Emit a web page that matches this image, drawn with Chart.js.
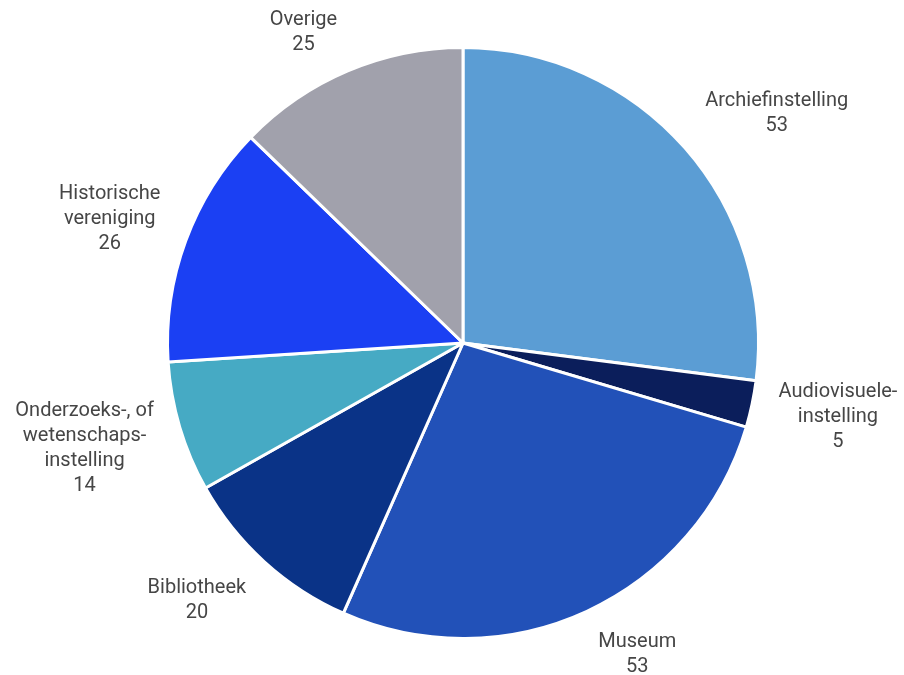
<!DOCTYPE html>
<html lang="nl">
<head>
<meta charset="utf-8">
<title>Erfgoedinstellingen</title>
<script src="https://cdn.jsdelivr.net/npm/chart.js@4"></script>
<style>
    html, body { margin: 0; padding: 0; background: #fff; }
    #wrap { width: 904px; height: 675px; }
</style>
</head>
<body>
<div id="wrap"><canvas id="chart" width="904" height="675"></canvas></div>
<script>
// Aantal instellingen per type
const categories = ['Archiefinstelling', 'Audiovisuele-instelling', 'Museum', 'Bibliotheek',
    'Onderzoeks-, of wetenschapsinstelling', 'Historische vereniging', 'Overige'];
const counts = [53, 5, 53, 20, 14, 26, 25];
// how each category name is broken over lines in its label
const labelLines = [
    ['Archiefinstelling'],
    ['Audiovisuele-', 'instelling'],
    ['Museum'],
    ['Bibliotheek'],
    ['Onderzoeks-, of', 'wetenschaps-', 'instelling'],
    ['Historische', 'vereniging'],
    ['Overige']
];
const colors = ['#5b9dd4', '#0b1e5b', '#2251b8', '#0a3387', '#46aac4', '#1b40f3', '#a1a1ac'];

const LABEL_FONT = '20px Roboto';
const LINE_HEIGHT = 25;
const LABEL_GAP = 27;

// Draws the category name and count next to each slice
const sliceLabels = {
    id: 'sliceLabels',
    afterDatasetsDraw(chart) {
        const ctx = chart.ctx;
        const meta = chart.getDatasetMeta(0);
        ctx.save();
        ctx.font = LABEL_FONT;
        ctx.fillStyle = '#464646';
        ctx.textAlign = 'center';
        ctx.textBaseline = 'middle';
        meta.data.forEach((arc, i) => {
            const lines = labelLines[i].concat(String(counts[i]));
            const w = Math.max(...lines.map(l => ctx.measureText(l).width));
            const h = lines.length * LINE_HEIGHT;
            const mid = (arc.startAngle + arc.endAngle) / 2;
            const dx = Math.cos(mid), dy = Math.sin(mid);
            const ax = arc.x + (arc.outerRadius + LABEL_GAP) * dx;
            const ay = arc.y + (arc.outerRadius + LABEL_GAP) * dy;
            // box hangs off the anchor on the side away from the pie
            let cx = dx >= 0 ? ax + w / 2 : ax - w / 2;
            cx = Math.min(Math.max(cx, w / 2 + 4), chart.width - w / 2 - 4);
            const cy = ay + dy * h / 2;
            // keep the label inside the canvas
            const top = Math.min(Math.max(cy - h / 2, 7), chart.height - h + 4);
            lines.forEach((line, k) => {
                ctx.fillText(line, cx, top + LINE_HEIGHT * (k + 0.5));
            });
        });
        ctx.restore();
    }
};

new Chart(document.getElementById('chart'), {
    type: 'pie',
    data: {
        labels: categories,
        datasets: [{
            data: counts,
            backgroundColor: colors,
            borderColor: '#ffffff',
            borderWidth: 3
        }]
    },
    options: {
        responsive: false,
        animation: false,
        layout: { padding: { left: 166, right: 144, top: 46, bottom: 35 } },
        plugins: {
            legend: { display: false },
            tooltip: { enabled: false }
        }
    },
    plugins: [sliceLabels]
});
</script>
</body>
</html>
